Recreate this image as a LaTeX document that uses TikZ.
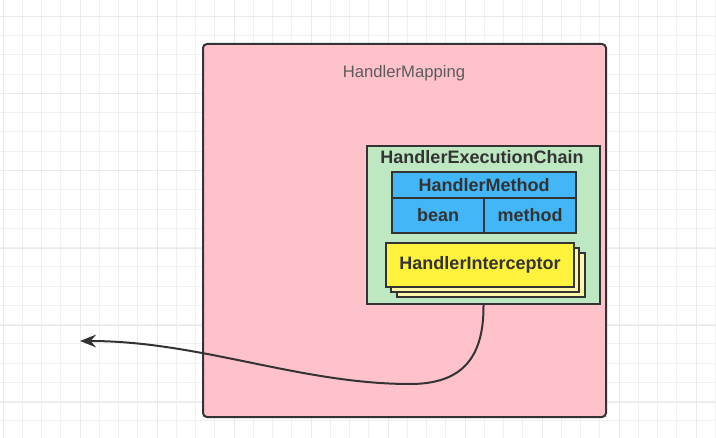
\documentclass[tikz,border=0pt]{standalone}
\usepackage{fontspec}
\setmainfont{Liberation Sans}
\usetikzlibrary{arrows.meta}

\definecolor{mappink}{HTML}{FFC2CB}
\definecolor{chaingreen}{HTML}{BDE8C1}
\definecolor{methodblue}{HTML}{42B6F6}
\definecolor{icyellow}{HTML}{FFF23C}
\definecolor{icpale}{HTML}{FFF6A8}
\definecolor{edgegray}{HTML}{333333}
\definecolor{gridgray}{HTML}{F0F0F0}
\definecolor{gridmajor}{HTML}{EAEAEA}

\begin{document}
\begin{tikzpicture}[x=0.75pt, y=-0.75pt,
    gl/.style={draw=gridgray, line width=0.75pt},
    glmajor/.style={draw=gridmajor, line width=0.75pt},
    box/.style={draw=edgegray, line width=1.5pt, inner sep=0pt},
    cell/.style={box, line width=1.1pt, fill=methodblue, font=\fontsize{13.5}{16}\selectfont\bfseries, text=edgegray},
    ic/.style={box, line width=1.1pt, minimum width=141pt, minimum height=33pt},
    tr/.style={-{Stealth[length=12pt, width=9.5pt, inset=4pt]}, draw=edgegray, line width=1.5pt}
]
\useasboundingbox (0,0) rectangle (716,438);

% background grid
\foreach \i in {0,...,37} {
  \draw[gl] ({3+19.25*\i},0) -- ({3+19.25*\i},438);
}
\foreach \i in {0,...,22} {
  \draw[gl] (0,{-2.75+19.25*\i}) -- (716,{-2.75+19.25*\i});
}
\foreach \i in {0,...,9} {
  \draw[glmajor] ({3+77*\i},0) -- ({3+77*\i},438);
}
\foreach \i in {0,...,5} {
  \draw[glmajor] (0,{17+77*\i}) -- (716,{17+77*\i});
}

% HandlerMapping
\node[box, fill=mappink, rounded corners=3pt, minimum width=302.25pt, minimum height=279.75pt] (mapping) at (404.5,230.5) {};
\node[text=edgegray!80, font=\fontsize{12.5}{15}\selectfont] (maptitle) at (404,73) {HandlerMapping};

% HandlerExecutionChain
\node[box, fill=chaingreen, minimum width=174.75pt, minimum height=118.5pt] (chain) at (483.5,225) {};
\node[text=edgegray, font=\fontsize{13.5}{16}\selectfont\bfseries] (chaintitle) at (482,157) {HandlerExecutionChain};

% HandlerMethod
\node[cell, minimum width=138pt, minimum height=19.5pt] (method) at (484,185) {HandlerMethod};
\node[cell, minimum width=69pt, minimum height=26.25pt] (bean) at (438,215.5) {bean};
\node[cell, minimum width=69pt, minimum height=26.25pt] (methodfield) at (530,215.5) {method};

% HandlerInterceptor stack
\node[ic, fill=icpale] (ic3) at (491,275) {};
\node[ic, fill=icpale] (ic2) at (485,270) {};
\node[ic, fill=icyellow, text=edgegray, font=\fontsize{13.5}{16}\selectfont\bfseries] (ic1) at (480,265) {HandlerInterceptor};

% return path
\coordinate (out) at (80,341);
\draw[tr] (chain.south) .. controls (484,360) and (460,384) .. (410,384)
    .. controls (300,384) and (200,341) .. (out);
\end{tikzpicture}
\end{document}
